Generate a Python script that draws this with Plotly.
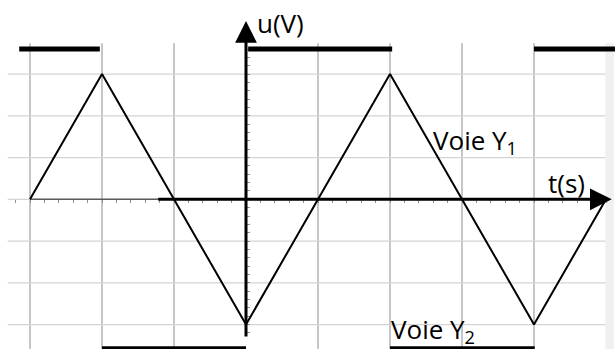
import plotly.graph_objects as go

# Voie Y1: triangle wave (t in grid divisions, u in grid divisions)
time_y1 = [-3, -2, 0, 2, 4, 5]
volt_y1 = [0, 3, -3, 3, -3, 0]

# Voie Y2: square wave, only the plateaus are drawn
time_y2 = [-3.15, -2.03, None, -2.0, 0.0, None, 0.03, 2.03, None, 2.0, 4.01, None, 4.0, 5.2]
volt_y2 = [3.6, 3.6, None, -3.58, -3.58, None, 3.6, 3.6, None, -3.58, -3.58, None, 3.6, 3.6]

# grid divisions
grid_t = [-3, -2, -1, 1, 2, 3, 4]
grid_u = [-3, -2, -1, 0, 1, 2, 3]

X_RANGE = [-3.4167, 5.125]
Y_RANGE = [-3.586, 4.774]
GRID_TOP = 3.74
GRID_LEFT, GRID_RIGHT = -3.31, 4.99

# small graduation marks every 0.2 division along both axes
x_minor = [round(i * 0.2, 1) for i in range(-16, 26)]
y_minor = [round(i * 0.2, 1) for i in range(-16, 19)]

fig = go.Figure()

# light grey strip on the right edge
fig.add_shape(type="rect", x0=GRID_RIGHT, x1=5.11, y0=Y_RANGE[0], y1=GRID_TOP,
              fillcolor="#f0f0f0", line_width=0, layer="below")

# grid
for t in grid_t:
    fig.add_shape(type="line", x0=t, x1=t, y0=Y_RANGE[0], y1=GRID_TOP,
                  line={"color": "#a0a0a0", "width": 1.2}, layer="below")
for u in grid_u:
    fig.add_shape(type="line", x0=GRID_LEFT, x1=GRID_RIGHT, y0=u, y1=u,
                  line={"color": "#d4d4d4", "width": 1.2}, layer="below")

# thin grey time axis under the thick arrow
fig.add_shape(type="line", x0=-3, x1=5, y0=0, y1=0,
              line={"color": "#5a5a5a", "width": 1.5}, layer="below")

fig.add_trace(go.Scatter(x=time_y1, y=volt_y1, mode="lines",
                         line={"color": "black", "width": 2}, showlegend=False))
fig.add_trace(go.Scatter(x=time_y2, y=volt_y2, mode="lines", connectgaps=False,
                         line={"color": "black", "width": 5}, showlegend=False))

# axes arrows
fig.add_annotation(x=5.08, y=0, ax=-1.24, ay=0, axref="x", ayref="y", text="",
                   showarrow=True, arrowhead=2, arrowwidth=3, arrowsize=1.45,
                   arrowcolor="black", standoff=0)
fig.add_annotation(x=0, y=4.27, ax=0, ay=-3.32, axref="x", ayref="y", text="",
                   showarrow=True, arrowhead=2, arrowwidth=3, arrowsize=1.45,
                   arrowcolor="black", standoff=0)

font = {"family": "Open Sans", "size": 26, "color": "black"}
fig.add_annotation(x=0.12, y=4.22, text="u(V)", showarrow=False,
                   xanchor="left", yanchor="middle", font=font)
fig.add_annotation(x=4.17, y=0.39, text="t(s)", showarrow=False,
                   xanchor="left", yanchor="middle", font=font)
fig.add_annotation(x=2.57, y=1.4, text="Voie Y<sub>1</sub>", showarrow=False,
                   xanchor="left", yanchor="middle", font=font)
fig.add_annotation(x=1.99, y=-3.13, text="Voie Y<sub>2</sub>", showarrow=False,
                   xanchor="left", yanchor="middle", font=font)

fig.update_layout(
    width=615,
    height=349,
    margin={"l": 0, "r": 0, "t": 0, "b": 0},
    paper_bgcolor="white",
    plot_bgcolor="white",
    xaxis={"range": X_RANGE, "showgrid": False, "zeroline": False, "showline": False,
           "anchor": "free", "position": 0.429, "ticks": "outside", "ticklen": 3,
           "tickcolor": "#909090", "tickmode": "array", "tickvals": x_minor,
           "showticklabels": False, "layer": "below traces", "fixedrange": True},
    yaxis={"range": Y_RANGE, "showgrid": False, "zeroline": False, "showline": False,
           "anchor": "free", "position": 0.4, "ticks": "inside", "ticklen": 3,
           "tickcolor": "#909090", "tickmode": "array", "tickvals": y_minor,
           "showticklabels": False, "layer": "below traces", "fixedrange": True},
)

fig.write_html("out.html", config={"displayModeBar": False},
               post_script="document.body.style.margin='0';")
